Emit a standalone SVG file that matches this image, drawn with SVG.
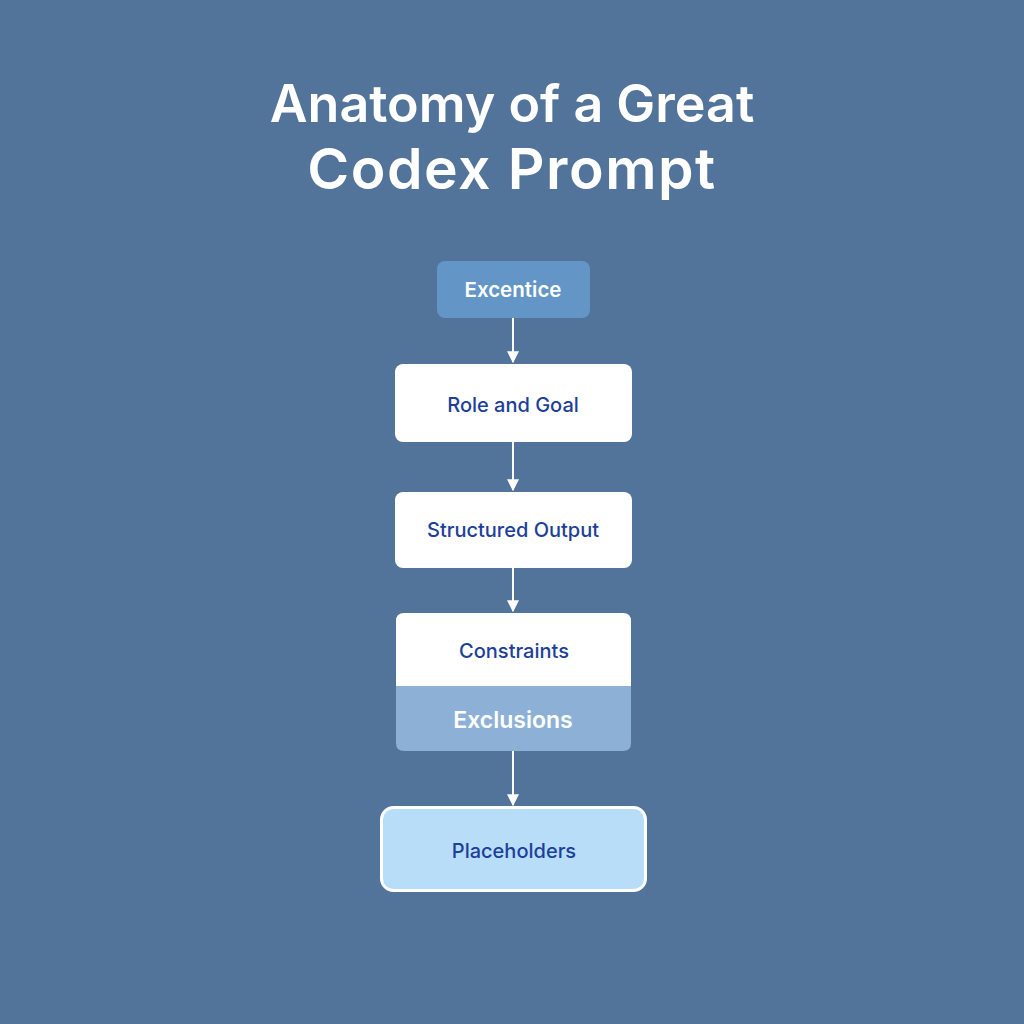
<svg xmlns="http://www.w3.org/2000/svg" width="1024" height="1024" viewBox="0 0 1024 1024">
<defs>
<marker id="ah" viewBox="0 0 10 10" refX="9" refY="5" markerWidth="6" markerHeight="6" orient="auto" markerUnits="strokeWidth">
<path d="M0,0 L10,5 L0,10 z" fill="#ffffff"/>
</marker>
</defs>
<style>
.title{font-family:Inter,"Noto Sans","Liberation Sans",sans-serif;font-weight:600;fill:#ffffff;text-anchor:middle}
.lbl{font-family:Inter,"Noto Sans","Liberation Sans",sans-serif;font-weight:500;font-size:20px;fill:#1c3f9b;text-anchor:middle;dominant-baseline:central}
.wlbl{font-family:Inter,"Noto Sans","Liberation Sans",sans-serif;font-weight:600;fill:#ffffff;text-anchor:middle;dominant-baseline:central}
.box{fill:#ffffff}
.conn{stroke:#ffffff;stroke-width:2;fill:none;marker-end:url(#ah)}
</style>
<rect width="1024" height="1024" fill="#52739a"/>
<text class="title" x="512" y="122" font-size="52">Anatomy of a Great</text>
<text class="title" x="512" y="189" font-size="57" letter-spacing="1.5">Codex Prompt</text>
<g id="connectors">
<line class="conn" x1="513" y1="318" x2="513" y2="362"/>
<line class="conn" x1="513" y1="442" x2="513" y2="490"/>
<line class="conn" x1="513" y1="568" x2="513" y2="611"/>
<line class="conn" x1="513" y1="751" x2="513" y2="805"/>
</g>
<g id="excentice">
<rect x="437" y="261" width="153" height="57" rx="8" fill="#6395c6"/>
<text class="wlbl" x="513" y="289" font-size="20.5">Excentice</text>
</g>
<g id="role-goal">
<rect class="box" x="395" y="364" width="237" height="78" rx="8"/>
<text class="lbl" x="513" y="405">Role and Goal</text>
</g>
<g id="structured-output">
<rect class="box" x="395" y="492" width="237" height="76" rx="8"/>
<text class="lbl" x="513" y="530">Structured Output</text>
</g>
<g id="constraints-exclusions">
<path d="M396,700 L396,621 Q396,613 404,613 L623,613 Q631,613 631,621 L631,700 z" fill="#ffffff"/>
<path d="M396,686 L631,686 L631,743 Q631,751 623,751 L404,751 Q396,751 396,743 z" fill="#8db1d6"/>
<text class="lbl" x="514" y="651">Constraints</text>
<text class="wlbl" x="513" y="720" font-size="23">Exclusions</text>
</g>
<g id="placeholders">
<rect x="381.5" y="807.5" width="264" height="83" rx="12" fill="#b7ddf8" stroke="#ffffff" stroke-width="3"/>
<text class="lbl" x="514" y="851">Placeholders</text>
</g>
</svg>
